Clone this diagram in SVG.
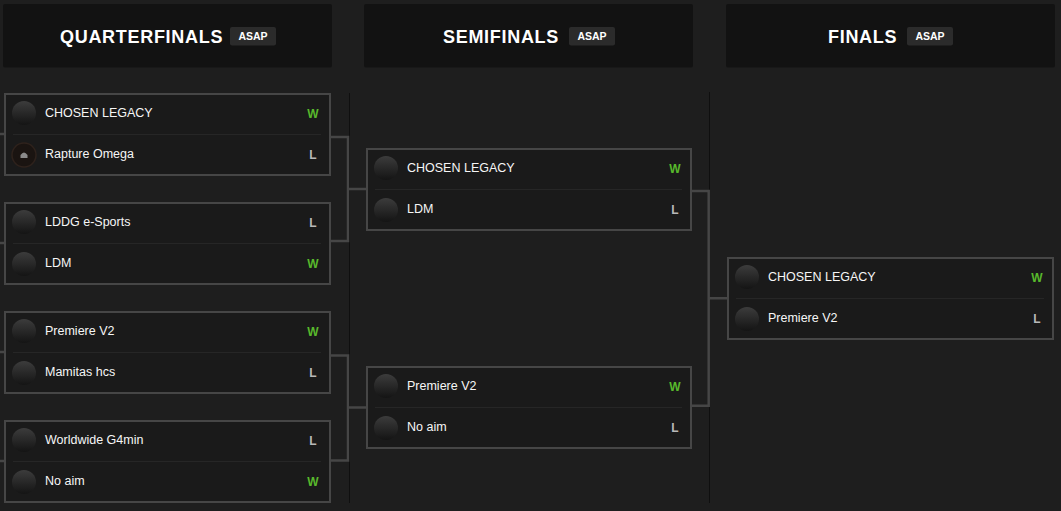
<svg xmlns="http://www.w3.org/2000/svg" width="1061" height="511" viewBox="0 0 1061 511">
<defs>
<style>
.hdr{fill:#121212}
.title{font-family:"Liberation Sans",Arial,sans-serif;font-weight:bold;font-size:18px;letter-spacing:0.7px;fill:#ffffff}
.badge{fill:#2b2b2b}
.badgetxt{font-family:"Liberation Sans",Arial,sans-serif;font-weight:bold;font-size:10.5px;fill:#ffffff;text-anchor:middle}
.box{fill:#1a1a1a;stroke:#464646;stroke-width:2}
.div{stroke:#262626;stroke-width:1}
.team{font-family:"Liberation Sans",Arial,sans-serif;font-size:12.5px;fill:#f6f6f6}
.w{font-family:"Liberation Sans",Arial,sans-serif;font-weight:bold;font-size:12px;fill:#58b82c;text-anchor:middle}
.l{font-family:"Liberation Sans",Arial,sans-serif;font-weight:bold;font-size:12px;fill:#b8b8b8;text-anchor:middle}
.conn{fill:none;stroke:#464646;stroke-width:2.5}
.sep{stroke:#0f0f0f;stroke-width:1}
.av{fill:url(#avg)}
</style>
<linearGradient id="avg" x1="0" y1="0" x2="0" y2="1">
<stop offset="0" stop-color="#3c3c3c"/>
<stop offset="1" stop-color="#141414"/>
</linearGradient>
</defs>
<rect width="1061" height="511" fill="#1e1e1e"/>

<g id="header-quarterfinals">
<rect class="hdr" x="3" y="4" width="329" height="63.5" rx="2"/>
<text class="title" x="60" y="43">QUARTERFINALS</text>
<rect class="badge" x="230" y="27" width="46" height="18.5" rx="2"/>
<text class="badgetxt" x="253" y="40">ASAP</text>
</g>
<g id="header-semifinals">
<rect class="hdr" x="364" y="4" width="329" height="63.5" rx="2"/>
<text class="title" x="443" y="43">SEMIFINALS</text>
<rect class="badge" x="569" y="27" width="46" height="18.5" rx="2"/>
<text class="badgetxt" x="592" y="40">ASAP</text>
</g>
<g id="header-finals">
<rect class="hdr" x="726" y="4" width="329" height="63.5" rx="2"/>
<text class="title" x="828" y="43">FINALS</text>
<rect class="badge" x="907" y="27" width="46" height="18.5" rx="2"/>
<text class="badgetxt" x="930" y="40">ASAP</text>
</g>

<g id="separators">
<line class="sep" x1="349.5" y1="93" x2="349.5" y2="503"/>
<line class="sep" x1="709.5" y1="92" x2="709.5" y2="503"/>
</g>

<g id="connectors">
<path class="conn" d="M0,134 H4 M0,243 H4 M0,352 H4 M0,461 H4"/>
<path class="conn" d="M331,137 H348 V241 H331 M348,189 H366"/>
<path class="conn" d="M331,355.5 H348 V460.5 H331 M348,407.5 H366"/>
<path class="conn" d="M692,191 H708.7 V405.7 H692 M708.7,298.3 H727"/>
</g>

<g id="qf1" transform="translate(4,93)">
<rect class="box" x="1" y="1" width="325" height="81"/>
<line class="div" x1="9" y1="41.5" x2="317" y2="41.5"/>
<circle class="av" cx="20" cy="20" r="12"/>
<text class="team" x="41" y="23.5">CHOSEN LEGACY</text>
<text class="w" x="309" y="25">W</text>
<circle cx="20" cy="62" r="12" fill="#1a1411" stroke="#2e221c" stroke-width="1.5"/>
<path d="M16.5,65 V62 Q20,57 23.5,62 V65 Z" fill="#8a8a8a"/>
<text class="team" x="41" y="64.5">Rapture Omega</text>
<text class="l" x="309" y="66">L</text>
</g>

<g id="qf2" transform="translate(4,202)">
<rect class="box" x="1" y="1" width="325" height="81"/>
<line class="div" x1="9" y1="41.5" x2="317" y2="41.5"/>
<circle class="av" cx="20" cy="20" r="12"/>
<text class="team" x="41" y="23.5">LDDG e-Sports</text>
<text class="l" x="309" y="25">L</text>
<circle class="av" cx="20" cy="62" r="12"/>
<text class="team" x="41" y="64.5">LDM</text>
<text class="w" x="309" y="66">W</text>
</g>

<g id="qf3" transform="translate(4,311)">
<rect class="box" x="1" y="1" width="325" height="81"/>
<line class="div" x1="9" y1="41.5" x2="317" y2="41.5"/>
<circle class="av" cx="20" cy="20" r="12"/>
<text class="team" x="41" y="23.5">Premiere V2</text>
<text class="w" x="309" y="25">W</text>
<circle class="av" cx="20" cy="62" r="12"/>
<text class="team" x="41" y="64.5">Mamitas hcs</text>
<text class="l" x="309" y="66">L</text>
</g>

<g id="qf4" transform="translate(4,420)">
<rect class="box" x="1" y="1" width="325" height="81"/>
<line class="div" x1="9" y1="41.5" x2="317" y2="41.5"/>
<circle class="av" cx="20" cy="20" r="12"/>
<text class="team" x="41" y="23.5">Worldwide G4min</text>
<text class="l" x="309" y="25">L</text>
<circle class="av" cx="20" cy="62" r="12"/>
<text class="team" x="41" y="64.5">No aim</text>
<text class="w" x="309" y="66">W</text>
</g>

<g id="sf1" transform="translate(366,148)">
<rect class="box" x="1" y="1" width="324" height="81"/>
<line class="div" x1="9" y1="41.5" x2="316" y2="41.5"/>
<circle class="av" cx="20" cy="20" r="12"/>
<text class="team" x="41" y="23.5">CHOSEN LEGACY</text>
<text class="w" x="309" y="25">W</text>
<circle class="av" cx="20" cy="62" r="12"/>
<text class="team" x="41" y="64.5">LDM</text>
<text class="l" x="309" y="66">L</text>
</g>

<g id="sf2" transform="translate(366,366)">
<rect class="box" x="1" y="1" width="324" height="81"/>
<line class="div" x1="9" y1="41.5" x2="316" y2="41.5"/>
<circle class="av" cx="20" cy="20" r="12"/>
<text class="team" x="41" y="23.5">Premiere V2</text>
<text class="w" x="309" y="25">W</text>
<circle class="av" cx="20" cy="62" r="12"/>
<text class="team" x="41" y="64.5">No aim</text>
<text class="l" x="309" y="66">L</text>
</g>

<g id="final" transform="translate(727,257)">
<rect class="box" x="1" y="1" width="325" height="81"/>
<line class="div" x1="9" y1="41.5" x2="317" y2="41.5"/>
<circle class="av" cx="20" cy="20" r="12"/>
<text class="team" x="41" y="23.5">CHOSEN LEGACY</text>
<text class="w" x="310" y="25">W</text>
<circle class="av" cx="20" cy="62" r="12"/>
<text class="team" x="41" y="64.5">Premiere V2</text>
<text class="l" x="310" y="66">L</text>
</g>
</svg>
